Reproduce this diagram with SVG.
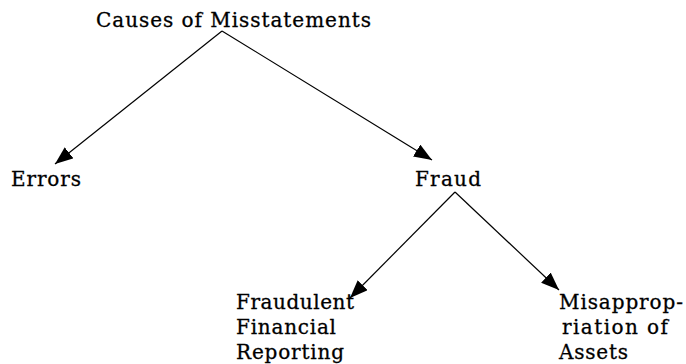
<svg xmlns="http://www.w3.org/2000/svg" width="686" height="364" viewBox="0 0 686 364">
<style>
text{font-family:"DejaVu Serif","Liberation Serif",serif;font-size:20px;fill:#000;stroke:#000;stroke-width:0.3}
.c line{stroke:#000;stroke-width:1.2}
</style>
<defs>
<marker id="ah" viewBox="0 0 18 14" refX="18" refY="7" markerWidth="18" markerHeight="14" markerUnits="userSpaceOnUse" orient="auto"><path d="M0,0L18,7L0,14z" fill="#000"/></marker>
</defs>
<rect width="686" height="364" fill="#fff"/>
<g id="causes"><text x="96" y="27" textLength="275" lengthAdjust="spacing">Causes of Misstatements</text></g>
<g id="errors"><text x="11" y="186" textLength="70" lengthAdjust="spacing">Errors</text></g>
<g id="fraud"><text x="415" y="186" textLength="66" lengthAdjust="spacing">Fraud</text></g>
<g id="ffr"><text x="236" y="309" textLength="118" lengthAdjust="spacing">Fraudulent</text><text x="236" y="334" textLength="100" lengthAdjust="spacing">Financial</text><text x="236" y="359" textLength="108" lengthAdjust="spacing">Reporting</text></g>
<g id="misapp"><text x="559" y="309" textLength="124" lengthAdjust="spacing">Misapprop-</text><text x="562" y="334" textLength="106" lengthAdjust="spacing">riation of</text><text x="559" y="359" textLength="69" lengthAdjust="spacing">Assets</text></g>
<g class="c">
<line x1="222" y1="31" x2="55" y2="164" marker-end="url(#ah)"/>
<line x1="222" y1="31" x2="432" y2="160" marker-end="url(#ah)"/>
<line x1="455" y1="192" x2="350" y2="298" marker-end="url(#ah)"/>
<line x1="455" y1="192" x2="559" y2="290" marker-end="url(#ah)"/>
</g>
</svg>
